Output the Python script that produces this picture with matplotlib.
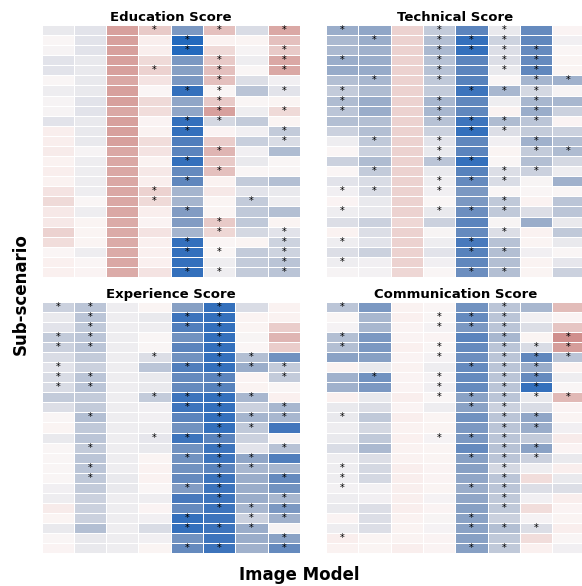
import numpy as np
import matplotlib
matplotlib.use("Agg")
import matplotlib.pyplot as plt
import matplotlib.colors as mcolors
import seaborn as sns

panel_titles = ["Education Score", "Technical Score", "Experience Score", "Communication Score"]

education = [
    [0.12, 0.15, -0.55, -0.30, 0.65, -0.35, 0.20, -0.50],
    [0.02, 0.15, -0.55, -0.08, 1.00, -0.05, -0.02, -0.35],
    [0.05, 0.15, -0.55, -0.08, 1.00, -0.20, 0.05, -0.30],
    [0.15, 0.12, -0.55, -0.20, 0.65, -0.30, 0.10, -0.50],
    [0.15, 0.12, -0.55, -0.25, 0.60, -0.35, 0.03, -0.50],
    [0.03, 0.12, -0.50, -0.15, 0.65, -0.35, 0.18, 0.08],
    [0.10, 0.12, -0.55, 0.00, 0.95, 0.02, 0.35, 0.15],
    [0.05, 0.15, -0.55, -0.20, 0.55, -0.30, 0.02, -0.02],
    [0.05, 0.15, -0.50, -0.18, 0.55, -0.55, 0.10, -0.20],
    [0.15, 0.12, -0.55, -0.03, 0.95, 0.22, 0.30, -0.02],
    [-0.08, 0.12, -0.55, -0.05, 0.95, -0.03, 0.08, 0.30],
    [-0.08, 0.12, -0.55, -0.18, 0.85, -0.28, 0.28, 0.20],
    [-0.10, 0.05, -0.50, -0.15, 0.80, -0.42, 0.08, 0.40],
    [-0.05, 0.10, -0.50, -0.05, 0.95, -0.30, 0.12, 0.03],
    [-0.08, 0.10, -0.50, -0.12, 0.75, -0.35, 0.03, 0.03],
    [-0.05, 0.10, -0.50, -0.08, 0.78, -0.05, 0.30, 0.38],
    [-0.15, 0.10, -0.50, -0.25, 0.45, -0.12, 0.15, 0.12],
    [-0.20, 0.03, -0.50, -0.20, 0.45, -0.02, 0.30, 0.10],
    [-0.12, 0.10, -0.50, -0.08, 0.62, -0.02, 0.32, 0.38],
    [-0.12, -0.02, -0.48, -0.03, 0.62, -0.30, 0.32, -0.02],
    [-0.25, -0.02, -0.48, -0.15, 0.45, -0.22, 0.22, 0.15],
    [-0.18, -0.02, -0.48, -0.06, 0.95, 0.00, -0.02, 0.25],
    [0.00, 0.10, -0.48, -0.06, 0.95, 0.02, 0.30, 0.25],
    [-0.06, 0.00, -0.50, -0.06, 0.95, 0.10, 0.30, 0.35],
    [-0.06, -0.03, -0.48, -0.15, 0.95, 0.10, 0.30, 0.35],
]
education_stars = [
    [4, 6, 8], [5], [5, 8], [6, 8], [4, 6, 8], [6], [5, 6, 8], [6], [6, 8], [5, 6],
    [5, 8], [8], [6], [5], [6], [5], [4], [4, 7], [5], [6],
    [6, 8], [5, 8], [5, 6, 8], [8], [5, 6, 8],
]

technical = [
    [0.50, 0.55, -0.25, 0.30, 0.80, 0.12, 0.75, -0.03],
    [0.42, 0.50, -0.25, 0.38, 0.95, 0.25, 0.78, 0.08],
    [0.42, 0.47, -0.25, 0.42, 0.95, 0.18, 0.75, 0.00],
    [0.50, 0.50, -0.25, 0.36, 0.80, 0.18, 0.75, -0.02],
    [0.52, 0.52, -0.25, 0.36, 0.80, 0.12, 0.78, -0.02],
    [0.38, 0.43, -0.25, 0.32, 0.82, 0.03, 0.45, 0.47],
    [0.30, 0.40, -0.25, 0.30, 0.92, 0.43, 0.22, 0.05],
    [0.40, 0.50, -0.25, 0.43, 0.78, 0.10, 0.43, 0.43],
    [0.34, 0.50, -0.25, 0.43, 0.78, -0.05, 0.50, 0.26],
    [0.38, 0.38, -0.25, 0.36, 0.92, 0.40, 0.34, -0.03],
    [0.26, 0.38, -0.25, 0.26, 0.95, 0.18, 0.30, 0.26],
    [0.10, 0.32, -0.25, 0.15, 0.78, 0.08, 0.47, 0.38],
    [0.00, 0.26, -0.25, 0.12, 0.80, -0.02, 0.30, 0.40],
    [0.26, 0.40, -0.25, 0.34, 0.95, 0.03, 0.38, 0.22],
    [0.00, 0.30, -0.25, 0.12, 0.82, 0.18, 0.26, 0.10],
    [0.15, 0.20, -0.25, 0.10, 0.75, 0.20, 0.04, 0.47],
    [0.08, 0.20, -0.25, 0.08, 0.65, 0.03, 0.03, 0.03],
    [-0.03, 0.12, -0.25, 0.03, 0.65, 0.32, -0.05, 0.34],
    [0.10, 0.12, -0.25, 0.12, 0.72, 0.32, 0.18, 0.34],
    [0.18, 0.26, -0.22, 0.26, 0.80, 0.04, 0.50, 0.12],
    [-0.05, 0.18, -0.25, 0.04, 0.75, 0.18, -0.05, 0.32],
    [0.10, 0.15, -0.25, 0.10, 0.88, 0.36, -0.02, 0.12],
    [0.18, 0.26, -0.25, 0.15, 0.82, 0.38, 0.08, 0.03],
    [0.10, 0.08, -0.25, 0.08, 0.78, 0.38, -0.04, 0.14],
    [0.05, 0.07, -0.22, 0.03, 0.72, 0.38, -0.02, 0.26],
]
technical_stars = [
    [1, 4, 6], [2, 4, 5, 6], [4, 5, 6, 7], [1, 4, 6, 7], [4, 6, 7], [2, 4, 7, 8], [1, 5, 6, 7], [1, 4, 7], [1, 4, 7], [4, 5, 6, 7],
    [5, 6], [2, 4, 7], [4, 7, 8], [4, 5], [2, 6, 7], [4, 5, 6], [1, 2, 4], [6], [1, 4, 5, 6], [],
    [6], [1, 5], [5, 6], [1], [5, 6],
]

experience = [
    [0.26, 0.34, 0.10, -0.02, 0.60, 0.95, 0.20, -0.05],
    [0.12, 0.34, 0.10, 0.12, 0.92, 0.95, -0.04, -0.05],
    [0.15, 0.32, 0.10, 0.10, 0.85, 0.95, -0.02, -0.28],
    [0.30, 0.34, 0.10, 0.02, 0.70, 0.95, 0.04, -0.42],
    [0.26, 0.34, 0.10, 0.02, 0.80, 0.95, 0.00, -0.28],
    [0.20, 0.30, 0.10, 0.18, 0.70, 0.95, 0.38, 0.70],
    [0.15, 0.26, 0.10, 0.34, 0.85, 0.95, 0.50, 0.30],
    [0.20, 0.34, 0.10, 0.12, 0.75, 0.80, -0.03, 0.30],
    [0.20, 0.34, 0.10, 0.12, 0.75, 0.82, -0.04, 0.03],
    [0.30, 0.30, 0.10, 0.30, 0.92, 0.95, 0.43, -0.06],
    [0.18, 0.30, 0.10, 0.08, 0.92, 0.95, 0.26, 0.43],
    [0.03, 0.38, 0.10, 0.08, 0.80, 0.95, 0.45, 0.43],
    [-0.02, 0.32, 0.10, 0.10, 0.70, 0.95, 0.32, 0.90],
    [0.12, 0.34, 0.10, 0.14, 0.92, 0.80, 0.26, 0.05],
    [0.02, 0.30, 0.10, 0.12, 0.70, 0.92, 0.15, 0.36],
    [0.03, 0.34, 0.10, -0.02, 0.70, 0.92, 0.55, 0.85],
    [0.03, 0.34, 0.10, -0.05, 0.70, 0.80, 0.43, 0.43],
    [0.03, 0.32, 0.12, -0.05, 0.75, 0.92, 0.50, 0.75],
    [0.08, 0.30, 0.12, 0.03, 0.62, 0.92, 0.50, 0.70],
    [0.10, 0.26, 0.10, 0.10, 0.88, 0.92, 0.50, 0.43],
    [-0.10, 0.26, 0.10, -0.03, 0.75, 0.92, 0.43, 0.65],
    [-0.02, 0.26, 0.10, 0.08, 0.95, 0.92, 0.26, 0.47],
    [0.12, 0.38, 0.10, 0.20, 0.95, 0.92, 0.50, 0.05],
    [0.03, 0.12, 0.10, 0.08, 0.70, 0.92, 0.50, 0.58],
    [-0.03, 0.12, 0.10, -0.02, 0.75, 0.92, 0.47, 0.75],
]
experience_stars = [
    [1, 2, 6], [2, 5, 6], [2, 5, 6], [1, 2, 6], [1, 2, 6], [4, 6, 7], [1, 5, 6, 7, 8], [1, 2, 6, 8], [1, 2, 6], [4, 5, 6, 7],
    [5, 6, 8], [2, 6, 7, 8], [6, 7], [4, 5, 6], [2, 6, 8], [5, 6, 7], [2, 6, 7], [2, 6, 8], [5, 6], [6, 8],
    [6, 7, 8], [5, 7, 8], [5, 6, 7], [8], [5, 6, 8],
]

communication = [
    [0.34, 0.65, -0.05, 0.00, 0.70, 0.34, 0.43, -0.38],
    [0.03, 0.43, -0.06, 0.03, 0.75, 0.34, 0.08, -0.03],
    [0.06, 0.43, -0.03, 0.06, 0.65, 0.34, 0.18, -0.32],
    [0.38, 0.65, -0.03, -0.03, 0.80, 0.43, -0.02, -0.65],
    [0.38, 0.65, -0.06, 0.02, 0.75, 0.34, 0.20, -0.57],
    [0.58, 0.60, -0.03, 0.06, 0.72, 0.34, 0.78, 0.34],
    [-0.05, 0.12, -0.05, 0.10, 0.75, 0.34, 0.50, -0.05],
    [0.47, 0.70, -0.03, 0.06, 0.75, 0.34, 0.75, 0.10],
    [0.47, 0.65, -0.03, 0.08, 0.75, 0.34, 0.95, 0.02],
    [-0.06, 0.12, -0.08, 0.03, 0.58, 0.34, 0.12, -0.40],
    [0.12, 0.18, -0.03, 0.10, 0.58, 0.26, 0.20, -0.03],
    [0.12, 0.32, -0.08, -0.02, 0.70, 0.34, 0.55, -0.02],
    [0.10, 0.22, -0.05, -0.02, 0.65, 0.34, 0.50, 0.08],
    [0.12, 0.32, -0.06, 0.06, 0.65, 0.34, 0.30, -0.10],
    [0.20, 0.42, -0.05, -0.02, 0.75, 0.36, 0.58, -0.03],
    [0.10, 0.18, -0.05, -0.02, 0.60, 0.34, 0.26, 0.12],
    [0.10, 0.22, -0.08, -0.03, 0.60, 0.22, 0.10, -0.08],
    [0.10, 0.22, -0.08, -0.03, 0.55, 0.34, -0.18, 0.12],
    [0.07, 0.07, -0.07, -0.02, 0.50, 0.34, 0.18, 0.18],
    [0.10, 0.08, -0.07, 0.06, 0.55, 0.32, 0.08, -0.08],
    [0.12, 0.18, -0.08, -0.03, 0.60, 0.32, -0.18, -0.03],
    [-0.03, 0.18, -0.05, 0.04, 0.58, 0.26, 0.06, -0.02],
    [0.10, 0.18, -0.04, 0.06, 0.58, 0.38, 0.18, -0.08],
    [-0.08, -0.02, -0.04, -0.03, 0.60, 0.32, -0.18, 0.02],
    [-0.05, -0.02, -0.08, -0.03, 0.60, 0.32, -0.06, 0.08],
]
communication_stars = [
    [1, 6], [4, 5, 6], [4, 5, 6], [1, 6, 8], [1, 4, 6, 7, 8], [4, 6, 7, 8], [5, 6, 7], [2, 4, 6, 7], [4, 6, 7], [4, 5, 6, 7, 8],
    [5, 6], [1, 6, 7], [6, 7], [4, 5, 6], [6, 7], [5, 6, 7], [1, 6], [1, 6], [1, 5, 6], [6],
    [6], [5], [5, 6, 7], [1], [5, 6],
]

panels = [
    (education, education_stars),
    (technical, technical_stars),
    (experience, experience_stars),
    (communication, communication_stars),
]

W, H = 582, 586
fig = plt.figure(figsize=(W / 100, H / 100), dpi=100)

# pixel boxes (left, top, right, bottom)
boxes = [
    (41.5, 25, 300, 277),
    (326, 25, 584.5, 277),
    (41.5, 302, 300, 553),
    (326, 302, 584.5, 553),
]

cmap = sns.color_palette("vlag_r", as_cmap=True)
norm = mcolors.TwoSlopeNorm(vmin=-1.2, vcenter=0.0, vmax=1.0)

for (vals, stars), title, (l, t, r, b) in zip(panels, panel_titles, boxes):
    ax = fig.add_axes([l / W, 1 - b / H, (r - l) / W, (b - t) / H])
    data = np.array(vals)
    nr, nc = data.shape
    ax.pcolormesh(np.arange(nc + 1), np.arange(nr + 1), data, cmap=cmap, norm=norm,
                  edgecolors="white", linewidth=0.6)
    for i, cols in enumerate(stars):
        for c in cols:
            ax.text(c - 0.5, i + 0.5, "*", ha="center", va="center",
                    fontsize=7, color="black")
    ax.set_xlim(0, nc)
    ax.set_ylim(nr, 0)
    ax.set_xticks([])
    ax.set_yticks([])
    for s in ax.spines.values():
        s.set_visible(False)
    ax.set_title(title, fontsize=9.5, fontweight="bold", pad=3)

fig.text(299 / W, 1 - 575 / H, "Image Model", ha="center", va="center",
         fontsize=12, fontweight="bold")
fig.text(21 / W, 1 - 294 / H, "Sub-scenario", ha="center", va="center",
         fontsize=12, fontweight="bold", rotation=90)

fig.savefig("out.png", dpi=100)
